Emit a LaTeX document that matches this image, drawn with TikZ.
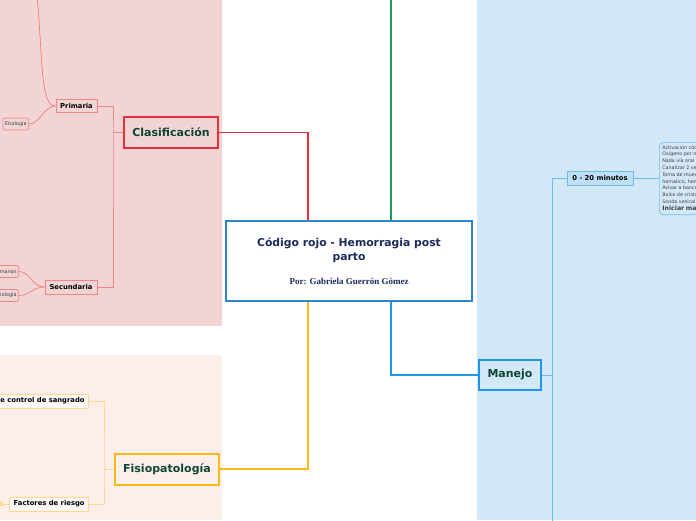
\documentclass[tikz,border=0pt]{standalone}
\usepackage{fontspec}
\setmainfont{DejaVu Sans}
\newfontfamily\timesf{Liberation Serif}
\usetikzlibrary{positioning}

\definecolor{pinkbg}{HTML}{F2D4D4}
\definecolor{peachbg}{HTML}{FCEFEA}
\definecolor{bluebg}{HTML}{D3E8F7}
\definecolor{redc}{HTML}{E8303A}
\definecolor{redlt}{HTML}{F0868A}
\definecolor{greenc}{HTML}{1F9A57}
\definecolor{orangec}{HTML}{FDB913}
\definecolor{orangelt}{HTML}{FFD88A}
\definecolor{bluec}{HTML}{1E96E8}
\definecolor{rootc}{HTML}{2E86C9}
\definecolor{bluelt}{HTML}{6DBDF0}
\definecolor{navy}{HTML}{1B2A5C}
\definecolor{darkgreen}{HTML}{0E4536}

\begin{document}
\begin{tikzpicture}[x=1pt, y=-1pt,
    root/.style = {draw=rootc, line width=2pt, fill=white, minimum width=246pt, minimum height=80pt, align=center, inner sep=0pt, text=navy, font=\bfseries\fontsize{10.8}{14}\selectfont},
    topic/.style = {line width=2pt, minimum height=31pt, font=\bfseries\fontsize{11}{13}\selectfont, text=darkgreen, inner sep=0pt},
    sub/.style = {line width=0.8pt, minimum height=13pt, font=\bfseries\fontsize{6.8}{8}\selectfont, inner sep=0pt},
    leaf/.style = {line width=0.7pt, rounded corners=1.5pt, minimum height=12pt, font=\fontsize{5}{6}\selectfont, text=black!75, inner sep=2pt},
    redline/.style = {draw=redc, line width=1.2pt},
    greenline/.style = {draw=greenc, line width=1.2pt},
    pinkline/.style = {draw=redlt, line width=0.8pt},
    orangeline/.style = {draw=orangec, line width=1.2pt},
    orangelt/.style = {draw=orangelt, line width=0.8pt},
    blueline/.style = {draw=bluec, line width=1.2pt},
    bluelt/.style = {draw=bluelt, line width=0.8pt}]
    \useasboundingbox (0,0) rectangle (696,520);
    \clip (0,0) rectangle (696,520);
    % backgrounds
    \fill[pinkbg] (0,0) rectangle (222,326);
    \fill[peachbg] (0,355) rectangle (222,520);
    \fill[bluebg] (477,0) rectangle (700,520);

    % central topic
    \node[root] (root) at (349,261) {C\'odigo rojo - Hemorragia post\\ parto\\[10pt]
        \timesf\fontsize{9}{10}\selectfont Por: Gabriela Guerr\'on G\'omez};

    % main topics
    \node[topic, draw=redc, fill=pinkbg, minimum width=94pt] (clas) at (171,132.5) {Clasificaci\'on};
    \node[topic, draw=orangec, fill=peachbg, minimum width=104pt] (fisio) at (167,469) {Fisiopatolog\'ia};
    \node[topic, draw=bluec, fill=bluebg, minimum width=62pt, minimum height=30pt] (manejo) at (510,375) {Manejo};
    \coordinate (green) at (391,-5);

    \draw[redline] ([xshift=-41pt]root.north) |- (clas.east);
    \draw[greenline] ([xshift=42pt]root.north) -- (green);
    \draw[orangeline] ([xshift=-41pt]root.south) |- (fisio.east);
    \draw[blueline] ([xshift=42pt]root.south) |- (manejo.west);

    % Clasificacion
    \node[sub, draw=redlt, fill=pinkbg, minimum width=41pt] (prim) at (76.5,106) {Primaria};
    \node[sub, draw=redlt, fill=pinkbg, minimum width=52pt, minimum height=14pt] (secu) at (71,287) {Secundaria};
    \node[leaf, draw=redlt, fill=pinkbg, anchor=east] (etio1) at (29,124) {Etiolog\'ia};
    \node[leaf, draw=redlt, fill=pinkbg, anchor=east] (seman) at (19,271.5) {12 semanas};
    \node[leaf, draw=redlt, fill=pinkbg, anchor=east] (etio2) at (19,295.5) {Etiolog\'ia};
    \coordinate (clasj) at (113,132.5);
    \coordinate (up1) at (37,-5);
    \draw[pinkline] (clas.west) -- (clasj);
    \draw[pinkline] (prim.east) -| (clasj) |- (secu.east);
    \draw[redlt, line width=0.8pt] (prim.west) .. controls (40,106) and (43,60) .. (up1);
    \draw[redlt, line width=0.8pt] (prim.west) .. controls (44,106) and (40,124) .. (etio1.east);
    \draw[redlt, line width=0.8pt] (secu.west) .. controls (32,287) and (30,271.5) .. (seman.east);
    \draw[redlt, line width=0.8pt] (secu.west) .. controls (32,287) and (30,295.5) .. (etio2.east);

    % Fisiopatologia
    \node[sub, draw=orangelt, fill=white!60!peachbg, anchor=east, inner xsep=4pt, minimum height=14pt] (meca) at (89,401) {Mecanismos de control de sangrado};
    \node[sub, draw=orangelt, fill=white!60!peachbg, anchor=east, inner xsep=4pt, minimum height=14pt] (fact) at (89,504) {Factores de riesgo};
    \node[circle, draw=orangec, fill=white, line width=0.6pt, inner sep=1.2pt] (fmark) at (1,504) {};
    \coordinate (fisj) at (104,469);
    \draw[orangelt] (fisio.west) -- (fisj);
    \draw[orangelt] (meca.east) -| (fisj) |- (fact.east);
    \draw[orangelt] (fact.west) -- (fmark);

    % Manejo
    \node[sub, draw=bluelt, fill=bluebg!80!bluelt, minimum width=66pt, minimum height=14pt] (min20) at (600,178) {0 - 20 minutos};
    \node[leaf, draw=bluelt, fill=bluebg, anchor=north west, rounded corners=4pt, text width=90pt, align=left, inner sep=3pt, font=\fontsize{4.8}{6.8}\selectfont] (pasos) at (659,142) {%
        Activaci\'on c\'odigo rojo\\ Ox\'igeno por mascarilla\\ Nada v\'ia oral\\ Canalizar 2 venas\\ Toma de muestras\\ hematico, hemoclasificaci\'on\\ Avisar a banco de sangre\\ Bolos de cristaloides\\ Sonda vesical\\ \bfseries\fontsize{6.2}{7}\selectfont Iniciar masaje};
    \coordinate (manj) at (552,375);
    \coordinate (mandown) at (552,525);
    \draw[bluelt] (manejo.east) -- (manj);
    \draw[bluelt] (min20.west) -| (mandown);
    \draw[bluelt] (min20.east) -- (min20.east -| pasos.west);
\end{tikzpicture}
\end{document}
